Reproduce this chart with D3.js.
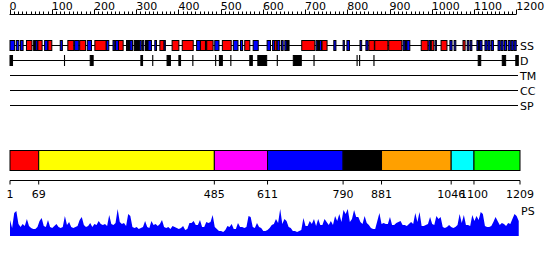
<!DOCTYPE html>
<html>
<head>
<meta charset="utf-8">
<script src="https://d3js.org/d3.v7.min.js"></script>
<style>
body { margin: 0; background: #fff; }
svg { font-family: "DejaVu Sans", sans-serif; }
</style>
</head>
<body>
<script>
var w = 550, h = 260;
var seqLength = 1209;

// ruler
var rulerLabels = [0, 100, 200, 300, 400, 500, 600, 700, 800, 900, 1000, 1100, 1200];

// secondary structure: H = helix (red), E = strand (blue), T = other (black)
var ssStart = [1, 16, 26, 40, 57, 62, 67, 83, 91, 120, 138, 154, 166, 184, 202, 229, 245, 251, 258, 277, 280, 285, 295, 308, 315, 322, 328, 344, 356, 366,
  385, 409, 443, 452, 464, 467, 486, 504, 530, 547, 557, 577, 610, 623, 628, 634, 644, 652, 657, 692, 726, 730, 734, 740, 768, 790, 799, 830, 844, 851,
  865, 898, 932, 937, 941, 975, 993, 999, 1008, 1022, 1043, 1053, 1074, 1084, 1091, 1107, 1111, 1114, 1126, 1133, 1141, 1157, 1164, 1172, 1181, 1188, 1195];
var ssEnd = [12, 22, 32, 53, 62, 67, 77, 91, 100, 125, 152, 164, 180, 194, 229, 235, 249, 258, 269, 280, 285, 291, 307, 312, 318, 328, 336, 348, 366, 369,
  401, 435, 452, 464, 467, 482, 496, 525, 541, 552, 569, 589, 618, 628, 633, 640, 648, 657, 662, 723, 730, 734, 739, 752, 773, 793, 805, 834, 849, 864,
  896, 929, 937, 941, 948, 991, 997, 1005, 1011, 1036, 1048, 1057, 1079, 1088, 1095, 1111, 1114, 1119, 1131, 1138, 1146, 1162, 1169, 1177, 1186, 1193, 1200];
var ssType = ["E","E","E","H","T","E","H","E","H","E","H","E","H","E","H","E","E","E","H","E","T","E","T","E","E","T","E","E","H","E",
  "H","H","E","H","T","H","E","H","E","E","H","E","E","E","H","E","E","E","T","H","E","T","E","H","E","E","E","E","E","H",
  "H","H","E","T","E","H","E","H","E","H","E","E","H","E","E","E","T","E","E","E","E","E","E","E","E","E","E"];

// disorder regions
var disStart = [1, 130, 191, 311, 339, 373, 401, 434, 488, 497, 524, 569, 588, 634, 672, 721, 823, 829, 863, 1110, 1167, 1199];
var disEnd   = [7, 130, 198, 315, 339, 381, 405, 434, 488, 504, 524, 575, 609, 634, 691, 721, 823, 829, 863, 1116, 1175, 1205];

var trackNames = ["SS", "D", "TM", "CC", "SP"];

// domain boundaries
var domainBounds = [1, 69, 485, 611, 790, 881, 1046, 1100, 1209];
var domainColors = ["#ff0000", "#ffff00", "#ff00ff", "#0000ff", "#000000", "#ffa000", "#00ffff", "#00ff00"];

// PS profile, one value every 5 residues
var psStep = 5;
var psValues = [16,8,23,25,12,9,12,10,17,10, 8,7,7,9,15,18,10,9,16,9, 8,10,12,9,8,9,20,11,14,9, 8,9,10,16,19,11,9,10,13,9,
  12,11,15,12,11,12,10,21,12,11, 13,27,14,12,13,10,22,20,9,8, 9,7,8,9,15,9,8,15,11,12, 10,12,16,9,8,9,7,10,9,8,
  7,8,10,6,7,13,13,15,11,11, 16,9,9,14,13,14,21,9,7,5, 5,4,6,10,9,12,7,7,13,9, 9,8,9,20,19,9,8,13,9,8,
  5,5,6,8,11,12,17,13,27,12, 17,15,9,8,5,5,4,5,6,18, 10,10,15,12,17,10,17,11,11,17, 14,11,15,11,20,15,22,14,26,22,
  27,14,17,26,19,19,14,12,20,13, 11,8,7,7,15,23,12,13,12,12, 19,11,11,13,14,15,11,11,10,12, 14,12,23,14,24,10,10,11,12,19,
  12,11,20,17,19,9,8,9,11,9, 8,9,11,22,13,21,11,11,10,21, 15,20,16,24,22,10,9,9,10,14, 19,15,11,13,12,10,13,12,17,22,
  20,15];

var svg = d3.select("body").append("svg")
  .attr("width", w)
  .attr("height", h);

svg.append("rect").attr("width", w).attr("height", h).attr("fill", "#fff");

var x = d3.scaleLinear().domain([1, seqLength]).range([10, 520]);

// top ruler
var rulerY = 14.5;
svg.append("line")
  .attr("x1", x(0)).attr("x2", x(1200))
  .attr("y1", rulerY).attr("y2", rulerY)
  .attr("stroke", "#000");
svg.selectAll(".minor")
  .data(d3.range(0, 1201, 10))
  .enter().append("line")
  .attr("x1", function(d) { return Math.round(x(d)) + 0.5; })
  .attr("x2", function(d) { return Math.round(x(d)) + 0.5; })
  .attr("y1", function(d) { return d % 100 == 0 ? rulerY - 5 : rulerY - 3; })
  .attr("y2", rulerY)
  .attr("stroke", "#000");
svg.selectAll(".rlab")
  .data(rulerLabels)
  .enter().append("text")
  .attr("x", function(d) { return x(d); })
  .attr("y", 10)
  .style("font-size", "11px")
  .text(function(d) { return d; });

// track lines
var trackY = [45.5, 60.5, 75.5, 90.5, 105.5];
trackNames.forEach(function(name, i) {
  svg.append("line")
    .attr("x1", x(1)).attr("x2", x(seqLength) - 2)
    .attr("y1", trackY[i]).attr("y2", trackY[i])
    .attr("stroke", "#000");
  svg.append("text")
    .attr("x", 520)
    .attr("y", trackY[i] + 4)
    .style("font-size", "11px")
    .text(name);
});

var ssColor = { H: "#ff0000", E: "#0000ff", T: "#000000" };
svg.selectAll(".ss")
  .data(ssStart)
  .enter().append("rect")
  .attr("x", function(d) { return x(d); })
  .attr("y", 40.5)
  .attr("width", function(d, i) { return x(ssEnd[i]) - x(d); })
  .attr("height", 10)
  .attr("fill", function(d, i) { return ssColor[ssType[i]]; })
  .attr("stroke", "#000");

// disorder: single residues drawn as thin bars
svg.selectAll(".dis")
  .data(disStart)
  .enter().append("rect")
  .attr("x", function(d) { return x(d); })
  .attr("y", 55.5)
  .attr("width", function(d, i) { return Math.max(0.1, x(disEnd[i]) - x(d)); })
  .attr("height", 10)
  .attr("fill", "#000")
  .attr("stroke", "#000");

// domain bar
svg.selectAll(".dom")
  .data(domainColors)
  .enter().append("rect")
  .attr("x", function(d, i) { return x(domainBounds[i]); })
  .attr("y", 150.5)
  .attr("width", function(d, i) { return x(domainBounds[i + 1]) - x(domainBounds[i]); })
  .attr("height", 20)
  .attr("fill", function(d) { return d; })
  .attr("stroke", "#000");

var axisY = 180.5;
svg.append("line")
  .attr("x1", x(1)).attr("x2", x(seqLength))
  .attr("y1", axisY).attr("y2", axisY)
  .attr("stroke", "#000");
svg.selectAll(".dtick")
  .data(domainBounds)
  .enter().append("line")
  .attr("x1", function(d) { return x(d); })
  .attr("x2", function(d) { return x(d); })
  .attr("y1", axisY).attr("y2", axisY + 4)
  .attr("stroke", "#000");
svg.selectAll(".dlab")
  .data(domainBounds)
  .enter().append("text")
  .attr("x", function(d) { return x(d); })
  .attr("y", 198)
  .attr("text-anchor", "middle")
  .style("font-size", "11px")
  .text(function(d) { return d; });

// PS profile
var y = d3.scaleLinear().domain([0, 30]).range([236, 206]);
var area = d3.area()
  .x(function(d, i) { return x(1 + i * psStep); })
  .y0(236)
  .y1(function(d) { return y(d); });
svg.append("path")
  .datum(psValues)
  .attr("d", area)
  .attr("fill", "#0000ff");
svg.append("text")
  .attr("x", 521)
  .attr("y", 215)
  .style("font-size", "11px")
  .text("PS");
</script>
</body>
</html>
